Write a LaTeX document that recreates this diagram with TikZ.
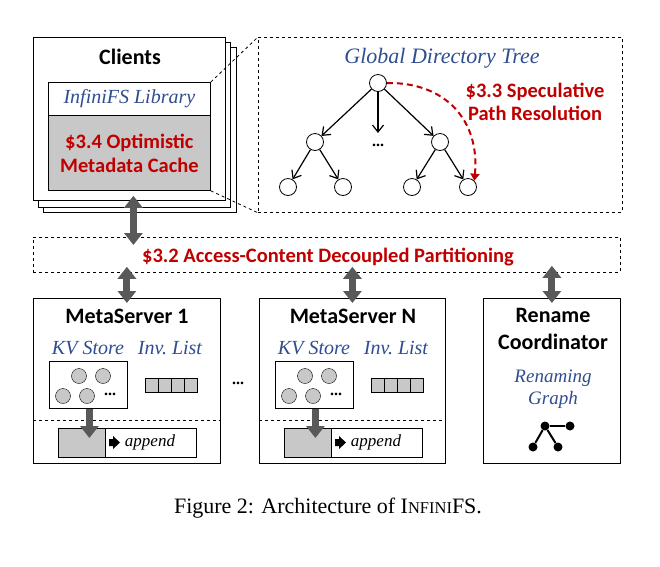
\documentclass[tikz,border=0pt]{standalone}
\usepackage{fontspec}
\setmainfont{Liberation Serif}
\newfontfamily\headfont{Carlito}
\usepackage{tikz}
\usetikzlibrary{positioning, arrows.meta, shapes, calc}

\definecolor{secred}{HTML}{C00000}
\definecolor{libblue}{HTML}{2F4D8F}
\definecolor{boxgray}{HTML}{C8C8C8}
\definecolor{fatgray}{HTML}{595959}

\tikzset{
  head/.style={font=\headfont\bfseries\fontsize{22}{27}\selectfont, align=center},
  sect/.style={font=\headfont\bfseries\fontsize{20.5}{22.5}\selectfont, text=secred, align=center},
  lib/.style={font=\itshape\fontsize{20}{22}\selectfont, text=libblue, align=center},
  plain/.style={draw, thick, fill=white, anchor=north west, inner sep=0pt},
  dbox/.style={draw, thick, dashed, anchor=north west, inner sep=0pt},
  tnode/.style={draw, thick, circle, minimum size=17pt, inner sep=0pt},
  kvnode/.style={draw, circle, fill=boxgray, minimum size=15pt, inner sep=0pt},
  cell/.style={draw, fill=boxgray, minimum width=13pt, minimum height=14pt, inner sep=0pt},
  gnode/.style={circle, fill=black, minimum size=9pt, inner sep=0pt},
  fat/.style={line width=7pt, draw=fatgray, {Triangle[width=18pt,length=12pt]}-{Triangle[width=18pt,length=12pt]}},
  fatdown/.style={line width=7pt, draw=fatgray, -{Triangle[width=18pt,length=12pt]}},
  tree/.style={line width=1.2pt, -{Straight Barb[length=7pt,width=11pt]}},
  ellip/.style={font=\bfseries\fontsize{16}{18}\selectfont}
}

\begin{document}
\begin{tikzpicture}[x=1pt, y=-1pt]
        \useasboundingbox (0,0) rectangle (660,566);

        % Clients
        \node (back2) [plain, minimum width=193pt, minimum height=165pt] at (43,47) {};
        \node (back1) [plain, minimum width=192pt, minimum height=165pt] at (38,42) {};
        \node (clients) [plain, minimum width=192pt, minimum height=163pt] at (33,37) {};
        \node (clientsT) [head] at (130,57) {Clients};
        \node (lib) [plain, minimum width=162pt, minimum height=33pt] at (48,82) {};
        \node (libT) [lib] at (lib.center) {InfiniFS Library};
        \node (cache) [plain, fill=boxgray, minimum width=162pt, minimum height=75pt] at (48,115) {};
        \node (cacheT) [sect, font=\headfont\bfseries\fontsize{20.5}{24}\selectfont] at (cache.center) {\$3.4 Optimistic\\Metadata Cache};

        % Global directory tree
        \node (tree) [dbox, minimum width=364pt, minimum height=175pt] at (258,37) {};
        \draw[thick, dashed] (lib.north east) -- (tree.north west);
        \draw[thick, dashed] (cache.south east) -- (tree.south west);
        \node (treeT) [lib, font=\itshape\fontsize{22}{24}\selectfont] at (442,58) {Global Directory Tree};
        \node (root) [tnode] at (378,83) {};
        \node (left) [tnode] at (315,142) {};
        \node (right) [tnode] at (440,142) {};
        \node (ll) [tnode] at (288,187) {};
        \node (lr) [tnode] at (343,187) {};
        \node (rl) [tnode] at (412,187) {};
        \node (rr) [tnode] at (468,187) {};
        \coordinate (mid) at (378,133);
        \node (dots) [ellip] at (378,145) {...};
        \draw[tree] (root) -- (left);
        \draw[tree] (root) -- (mid);
        \draw[tree] (root) -- (right);
        \draw[tree] (left) -- (ll);
        \draw[tree] (left) -- (lr);
        \draw[tree] (right) -- (rl);
        \draw[tree] (right) -- (rr);
        \draw[secred, line width=2pt, dash pattern=on 6pt off 4pt, -{Triangle[length=7pt,width=9pt]}]
            (root.east) .. controls (445,82) and (480,120) .. (rr.north east);
        \node (specT) [sect] at (535,102) {\$3.3 Speculative\\Path Resolution};

        % Partitioning
        \node (part) [dbox, minimum width=587pt, minimum height=35pt] at (33,237) {};
        \node (partT) [sect] at (328,257) {\$3.2 Access-Content Decoupled Partitioning};

        % Servers
        \node (ms1) [plain, minimum width=187pt, minimum height=165pt] at (33,298) {};
        \node (msN) [plain, minimum width=186pt, minimum height=165pt] at (259,298) {};
        \node (rename) [plain, minimum width=137pt, minimum height=165pt] at (483,298) {};
        \node (between) [ellip] at (238,383) {...};

        \foreach \ms/\dx/\num in {ms1/0/1, msN/226/N} {
          \begin{scope}[xshift=\dx pt]
            \node (\ms-title) [head] at (127,316) {MetaServer \num};
            \node (\ms-kvT) [lib] at (88,348) {KV Store};
            \node (\ms-invT) [lib] at (170,348) {Inv.\ List};
            \node (\ms-kv) [plain, thick, minimum width=78pt, minimum height=47pt] at (49,361) {};
            \node [kvnode] at (79,376) {};
            \node [kvnode] at (103,376) {};
            \node [kvnode] at (63,396) {};
            \node [kvnode] at (87,396) {};
            \node [ellip] at (110,394) {...};
            \foreach \i in {0,...,3}
              \node [cell] at (151.5+13*\i,385) {};
            \draw[thick, dashed] ([yshift=-122pt]\ms.north west) -- ([yshift=-122pt]\ms.north east);
            \node (\ms-log) [plain, fill=boxgray, minimum width=47pt, minimum height=29pt] at (58,428) {};
            \node (\ms-app) [plain, minimum width=91pt, minimum height=29pt] at (105,428) {};
            \fill (109,439) -- (113,439) -- (113,436) -- (120,442.5) -- (113,449) -- (113,446) -- (109,446) -- cycle;
            \node (\ms-appT) [lib, font=\itshape\fontsize{17}{20}\selectfont, text=black] at (150,442) {append};
            \draw[fatdown] ([xshift=1pt]\ms-kv.south) -- ($([xshift=1pt]\ms-kv.south |- \ms-log.north)+(0,10)$);
          \end{scope}
        }

        % Rename coordinator
        \node (renameT) [head] at (553,329) {Rename\\Coordinator};
        \node (graphT) [lib, font=\itshape\fontsize{19}{22}\selectfont] at (553,389) {Renaming\\Graph};
        \node (g1) [gnode] at (545,426) {};
        \node (g2) [gnode] at (570,426) {};
        \node (g3) [gnode] at (533,447) {};
        \node (g4) [gnode] at (558,447) {};
        \draw[line width=2pt] (g1) -- (g2);
        \draw[line width=2pt] (g1) -- (g3);
        \draw[line width=2pt] (g1) -- (g4);

        % Arrows
        \coordinate (c1) at ($(clients.south)+(4,-5)$);
        \coordinate (c2) at ($(clients.south |- part.north)+(4,8)$);
        \draw[fat] (c1) -- (c2);
        \coordinate (p1) at ($(part.south -| ms1.north)+(0,-6)$);
        \coordinate (p2) at ($(part.south -| msN.north)+(0,-6)$);
        \coordinate (p3) at ($(part.south -| rename.north)+(0,-7)$);
        \draw[fat] (p1) -- ($(ms1.north)+(0,5)$);
        \draw[fat] (p2) -- ($(msN.north)+(0,5)$);
        \draw[fat] (p3) -- ($(rename.north)+(0,5)$);

        % Caption
        \node (caption) [font=\fontsize{22}{26}\selectfont] at (328,508) {Figure 2: Architecture of I{\fontsize{16.5}{18}\selectfont NFINI}FS.};
\end{tikzpicture}
\end{document}
